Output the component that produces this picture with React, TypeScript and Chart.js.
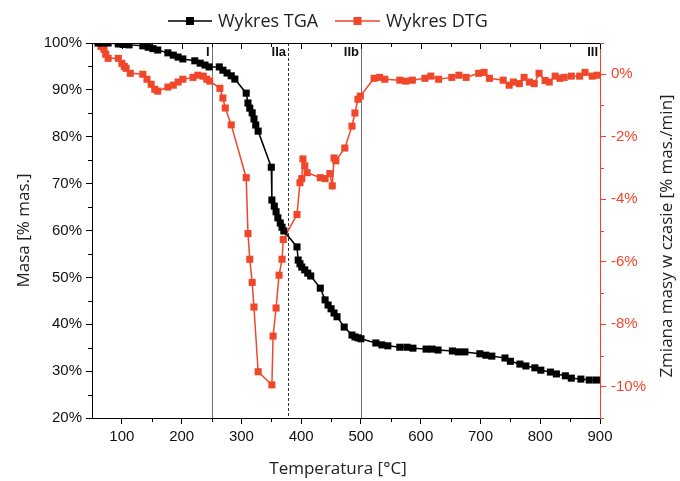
import React, { useEffect, useRef } from 'react';
import { Chart, registerables } from 'chart.js';

Chart.register(...registerables);

// ---- data ----
const tgaTemp = [60, 68, 77, 94, 102, 112, 135, 144, 152, 160, 177, 186, 194, 202, 222, 231, 239, 246, 263, 269, 276, 283, 289, 308, 311, 314, 318, 321, 324, 328, 350, 351, 355, 358, 361, 365, 368, 371, 393, 395, 398, 401, 406, 411, 416, 432, 440, 445, 450, 455, 460, 472, 485, 490, 495, 500, 525, 535, 545, 565, 577, 587, 609, 619, 629, 653, 663, 674, 699, 709, 719, 741, 750, 766, 776, 791, 801, 817, 827, 842, 852, 868, 882, 894];
const tgaMass = [100, 100, 100, 99.8, 99.7, 99.6, 99.4, 99.1, 98.8, 98.5, 97.9, 97.4, 97.0, 96.6, 96.2, 95.7, 95.3, 94.9, 94.9, 94.2, 93.6, 93.0, 92.3, 89.3, 87.2, 86.1, 85.1, 83.8, 82.5, 81.2, 73.5, 66.5, 65.2, 64.0, 62.7, 61.6, 60.7, 59.9, 56.5, 53.7, 52.9, 52.2, 51.6, 50.9, 50.3, 47.7, 45.2, 44.1, 43.3, 42.4, 41.6, 39.4, 37.7, 37.3, 37.1, 36.9, 36.0, 35.6, 35.4, 35.1, 35.1, 34.9, 34.7, 34.7, 34.5, 34.3, 34.1, 34.1, 33.7, 33.4, 33.2, 32.8, 32.1, 31.5, 31.1, 30.7, 30.2, 29.8, 29.4, 29.0, 28.5, 28.3, 28.1, 28.1];

const dtgTemp = [65, 70, 73, 77, 94, 100, 104, 107, 114, 135, 142, 149, 155, 160, 177, 186, 194, 202, 219, 227, 236, 242, 247, 264, 269, 273, 283, 308, 311, 314, 318, 321, 328, 351, 353, 358, 363, 368, 370, 393, 398, 401, 403, 406, 410, 432, 440, 448, 452, 455, 458, 473, 485, 490, 495, 499, 522, 531, 540, 565, 575, 586, 607, 617, 630, 652, 664, 676, 697, 706, 715, 738, 748, 755, 765, 773, 782, 790, 798, 808, 815, 825, 833, 840, 852, 866, 875, 887, 895];
const dtgRate = [0.89, 0.80, 0.64, 0.51, 0.51, 0.35, 0.25, 0.19, 0.03, 0.0, -0.16, -0.32, -0.48, -0.54, -0.41, -0.35, -0.25, -0.16, -0.10, -0.03, -0.06, -0.16, -0.22, -0.45, -0.76, -1.08, -1.62, -3.31, -5.10, -5.92, -6.66, -7.45, -9.52, -9.94, -8.38, -7.48, -6.43, -5.92, -5.29, -4.49, -3.47, -3.34, -2.71, -2.93, -3.15, -3.31, -3.34, -3.18, -3.57, -2.68, -2.77, -2.36, -1.66, -1.24, -0.80, -0.70, -0.13, -0.10, -0.16, -0.19, -0.22, -0.19, -0.13, -0.06, -0.16, -0.10, -0.03, -0.10, 0.03, 0.06, -0.13, -0.19, -0.35, -0.25, -0.30, -0.10, -0.25, -0.30, 0.03, -0.20, -0.25, -0.06, -0.13, -0.10, -0.06, -0.06, 0.06, -0.06, -0.03];

const xTicks = [100, 200, 300, 400, 500, 600, 700, 800, 900];
const xMinorTicks = [150, 250, 350, 450, 550, 650, 750, 850];
const massTicks = [20, 30, 40, 50, 60, 70, 80, 90, 100];
const massMinorTicks = [25, 35, 45, 55, 65, 75, 85, 95];
const rateTicks = [-10, -8, -6, -4, -2, 0];
const rateMinorTicks = [-11, -9, -7, -5, -3, -1, 1];
const phaseLines = [250, 378, 500];
const phaseLabels = ['I', 'IIa', 'IIb', 'III'];
const phaseLabelAt = [250, 378, 500, 900];

const legendLabels = ['Wykres TGA', 'Wykres DTG'];
const xTitle = 'Temperatura [°C]';
const yTitle = 'Masa [% mas.]';
const y1Title = 'Zmiana masy w czasie [% mas./min]';

const RED = '#F0462A';
const AXIS_RED = '#FF3D22';
const TICK_FONT = 'Liberation Sans';
const TITLE_FONT = 'Open Sans';

const decoPlugin = {
  id: 'deco',
  beforeDatasetsDraw(chart: any) {
    const { ctx, chartArea: a, scales } = chart;
    const x = scales.x;
    ctx.save();
    phaseLines.forEach((v, i) => {
      const px = Math.round(x.getPixelForValue(v)) + 0.5;
      ctx.beginPath();
      ctx.lineWidth = 1;
      if (i === 1) {
        ctx.strokeStyle = '#333';
        ctx.setLineDash([3, 2]);
      } else {
        ctx.strokeStyle = '#707080';
        ctx.setLineDash([]);
      }
      ctx.moveTo(px, a.top);
      ctx.lineTo(px, a.bottom);
      ctx.stroke();
    });
    ctx.restore();
  },
  afterDraw(chart: any) {
    const { ctx, chartArea: a, scales } = chart;
    const x = scales.x, y = scales.y, y1 = scales.y1;
    ctx.save();
    ctx.setLineDash([]);
    ctx.lineWidth = 1;
    // top axis
    ctx.strokeStyle = '#000';
    ctx.beginPath();
    ctx.moveTo(a.left, a.top + 0.5);
    ctx.lineTo(a.right, a.top + 0.5);
    ctx.stroke();
    ctx.beginPath();
    xTicks.forEach((v) => {
      const px = Math.round(x.getPixelForValue(v)) + 0.5;
      ctx.moveTo(px, a.top);
      ctx.lineTo(px, a.top + 6);
    });
    xMinorTicks.forEach((v) => {
      const px = Math.round(x.getPixelForValue(v)) + 0.5;
      ctx.moveTo(px, a.top);
      ctx.lineTo(px, a.top + 4);
      ctx.moveTo(px, a.bottom);
      ctx.lineTo(px, a.bottom + 4);
    });
    massMinorTicks.forEach((v) => {
      const py = Math.round(y.getPixelForValue(v)) + 0.5;
      ctx.moveTo(a.left - 4, py);
      ctx.lineTo(a.left, py);
    });
    ctx.stroke();
    ctx.strokeStyle = AXIS_RED;
    ctx.beginPath();
    rateMinorTicks.forEach((v) => {
      const py = Math.round(y1.getPixelForValue(v)) + 0.5;
      ctx.moveTo(a.right, py);
      ctx.lineTo(a.right + 4, py);
    });
    ctx.stroke();

    // phase labels
    ctx.fillStyle = '#111';
    ctx.font = `bold 13px "${TICK_FONT}"`;
    ctx.textAlign = 'right';
    ctx.textBaseline = 'middle';
    phaseLabels.forEach((t, i) => {
      let px = x.getPixelForValue(phaseLabelAt[i]) - 2;
      if (i === 3) px = a.right - 2;
      ctx.fillText(t, px, a.top + 9);
    });

    // titles
    ctx.fillStyle = '#222';
    ctx.font = `17px "${TITLE_FONT}"`;
    ctx.textAlign = 'center';
    ctx.textBaseline = 'middle';
    ctx.fillText(xTitle, 338, 469);
    ctx.save();
    ctx.translate(24, (a.top + a.bottom) / 2);
    ctx.rotate(-Math.PI / 2);
    ctx.fillText(yTitle, 0, 0);
    ctx.restore();
    ctx.save();
    ctx.translate(667, 236);
    ctx.rotate(-Math.PI / 2);
    ctx.fillText(y1Title, 0, 0);
    ctx.restore();

    // legend
    const ly = 21;
    const items = [
      { x0: 168, x1: 212, color: '#000', label: legendLabels[0] },
      { x0: 335, x1: 380, color: RED, label: legendLabels[1] },
    ];
    items.forEach((it) => {
      ctx.strokeStyle = it.color;
      ctx.lineWidth = 1.5;
      ctx.beginPath();
      ctx.moveTo(it.x0, ly);
      ctx.lineTo(it.x1, ly);
      ctx.stroke();
      ctx.fillStyle = it.color;
      const cx = (it.x0 + it.x1) / 2;
      ctx.fillRect(cx - 4, ly - 4, 8, 8);
      ctx.fillStyle = '#222';
      ctx.font = `18px "${TITLE_FONT}"`;
      ctx.textAlign = 'left';
      ctx.textBaseline = 'middle';
      ctx.fillText(it.label, it.x1 + 6, ly + 1);
    });
    ctx.restore();
  },
};

export default function App() {
  const ref = useRef<HTMLCanvasElement | null>(null);
  useEffect(() => {
    if (!ref.current) return;
    const chart = new Chart(ref.current, {
      type: 'line',
      data: {
        datasets: [
          {
            label: legendLabels[0],
            data: tgaTemp.map((t, i) => ({ x: t, y: tgaMass[i] })),
            borderColor: '#000',
            backgroundColor: '#000',
            borderWidth: 1.5,
            pointStyle: 'rect',
            pointRadius: 5,
            pointBorderWidth: 0,
            yAxisID: 'y',
          },
          {
            label: legendLabels[1],
            data: dtgTemp.map((t, i) => ({ x: t, y: dtgRate[i] })),
            borderColor: RED,
            backgroundColor: RED,
            borderWidth: 1.5,
            pointStyle: 'rect',
            pointRadius: 5,
            pointBorderWidth: 0,
            yAxisID: 'y1',
          },
        ],
      },
      options: {
        responsive: false,
        animation: false,
        layout: { padding: { top: 43, left: 0, right: 0, bottom: 0 } },
        plugins: { legend: { display: false }, tooltip: { enabled: false } },
        scales: {
          x: {
            type: 'linear',
            min: 50,
            max: 900,
            afterBuildTicks: (s: any) => { s.ticks = xTicks.map((v) => ({ value: v })); },
            afterFit: (s: any) => { s.height = 63; },
            ticks: { color: '#111', font: { family: TICK_FONT, size: 15 }, padding: 4, maxRotation: 0, autoSkip: false },
            grid: { drawOnChartArea: false, tickLength: 6, color: '#000' },
            border: { color: '#000', width: 1 },
          },
          y: {
            type: 'linear',
            position: 'left',
            min: 20,
            max: 100,
            afterBuildTicks: (s: any) => { s.ticks = massTicks.map((v) => ({ value: v })); },
            afterFit: (s: any) => { s.width = 92; },
            ticks: { color: '#111', font: { family: TICK_FONT, size: 15 }, padding: 4, callback: (v: any) => v + '%' },
            grid: { drawOnChartArea: false, tickLength: 6, color: '#000' },
            border: { color: '#000', width: 1 },
          },
          y1: {
            type: 'linear',
            position: 'right',
            min: -11,
            max: 1,
            afterBuildTicks: (s: any) => { s.ticks = rateTicks.map((v) => ({ value: v })); },
            afterFit: (s: any) => { s.width = 80; },
            ticks: { color: RED, font: { family: TICK_FONT, size: 15 }, padding: 5, callback: (v: any) => v + '%' },
            grid: { drawOnChartArea: false, tickLength: 6, color: AXIS_RED },
            border: { color: AXIS_RED, width: 1 },
          },
        },
      },
      plugins: [decoPlugin],
    } as any);
    return () => chart.destroy();
  }, []);
  return (
    <div style={{ position: 'absolute', left: 0, top: 0, width: 680, height: 481, background: '#fff' }}>
      <canvas ref={ref} width={680} height={481} style={{ width: 680, height: 481, display: 'block' }} />
    </div>
  );
}
